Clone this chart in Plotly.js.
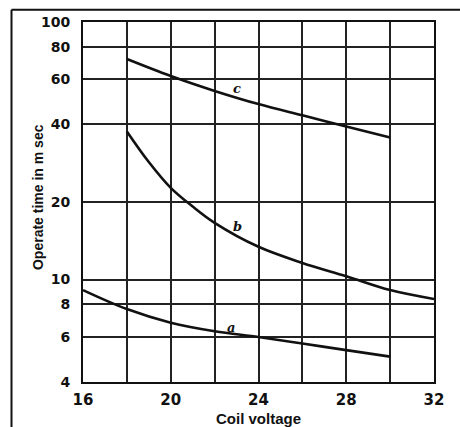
<!DOCTYPE html>
<html>
<head>
<meta charset="utf-8">
<script src="https://cdn.plot.ly/plotly-3.0.1.min.js"></script>
<style>
html,body{margin:0;padding:0;background:#fff;}
#chart{width:460px;height:427px;}
</style>
</head>
<body>
<div id="chart"></div>
<script>
// Curve a
var xA = [16, 18, 20, 22, 24, 26, 28, 30];
var yA = [9.1, 7.68, 6.8, 6.3, 5.98, 5.64, 5.32, 5.02];
// Curve b
var xB = [18, 19, 20, 21, 22, 24, 26, 28, 30, 32];
var yB = [37.6, 28.6, 22.7, 19.2, 16.6, 13.4, 11.6, 10.3, 9.1, 8.4];
// Curve c
var xC = [18, 20, 22, 24, 26, 28, 30];
var yC = [71.8, 61.7, 54.0, 48.0, 43.4, 39.3, 35.6];

var curveLabels = ["a", "b", "c"];
var labelX = [22.75, 23.06, 23.02];
var labelY = [6.54, 16.1, 55];

var xTickVals = [16, 20, 24, 28, 32];
var yTickVals = [4, 6, 8, 10, 20, 40, 60, 80, 100];
var yTickText = ["4", "6", "8", "10", "20", "40", "60", "80", "100"];

var lineStyle = {color: "#111", width: 2.6, shape: "spline", smoothing: 1};
function trace(x, y) {
  return {x: x, y: y, type: "scatter", mode: "lines", line: lineStyle, hoverinfo: "skip", showlegend: false};
}
var data = [trace(xA, yA), trace(xB, yB), trace(xC, yC)];

var annotations = curveLabels.map(function (t, i) {
  return {
    x: labelX[i], y: Math.log10(labelY[i]), xref: "x", yref: "y",
    text: "<i><b>" + t + "</b></i>", showarrow: false,
    font: {family: "DejaVu Serif, serif", size: 13, color: "#111"}
  };
});
annotations.push({
  x: -0.128, y: 0.514, xref: "paper", yref: "paper",
  text: "Operate time in m sec", textangle: -90, showarrow: false,
  xanchor: "center", yanchor: "middle",
  font: {family: "Liberation Sans, Arial, sans-serif", size: 14, weight: "bold", color: "#111"}
});

var gridColor = "#222";
var tickFont = {family: "DejaVu Sans, sans-serif", size: 15, weight: "bold", color: "#111"};
var layout = {
  width: 460, height: 427,
  margin: {l: 83, r: 26, t: 22, b: 45},
  paper_bgcolor: "#fff", plot_bgcolor: "#fff",
  font: {family: "Liberation Sans, Arial, sans-serif", color: "#111"},
  xaxis: {
    range: [16, 32],
    tickvals: xTickVals,
    ticktext: xTickVals.map(String),
    showgrid: true, gridcolor: gridColor, gridwidth: 2,
    minor: {dtick: 2, showgrid: true, gridcolor: gridColor, gridwidth: 2},
    showline: true, mirror: true, linecolor: "#111", linewidth: 2,
    ticks: "", zeroline: false,
    ticklabelstandoff: 3,
    tickfont: tickFont,
    title: {text: "Coil voltage", font: {size: 15, weight: "bold", color: "#111"}, standoff: 6}
  },
  yaxis: {
    type: "log",
    range: [Math.log10(4), 2],
    tickvals: yTickVals,
    ticktext: yTickText,
    showgrid: true, gridcolor: gridColor, gridwidth: 2,
    showline: true, mirror: true, linecolor: "#111", linewidth: 2,
    ticks: "", zeroline: false,
    ticklabelstandoff: 8,
    tickfont: {family: "DejaVu Sans, sans-serif", size: 14, weight: "bold", color: "#111"},
    title: {text: ""}
  },
  annotations: annotations,
  shapes: [
    {type: "line", xref: "paper", yref: "paper", x0: -0.2037, x1: -0.2037, y0: 1.034, y1: -0.2, line: {color: "#111", width: 2}},
    {type: "line", xref: "paper", yref: "paper", x0: -0.2037, x1: 1.2, y0: 1.034, y1: 1.034, line: {color: "#111", width: 2}}
  ]
};

Plotly.newPlot("chart", data, layout, {staticPlot: true, displayModeBar: false});
</script>
</body>
</html>
